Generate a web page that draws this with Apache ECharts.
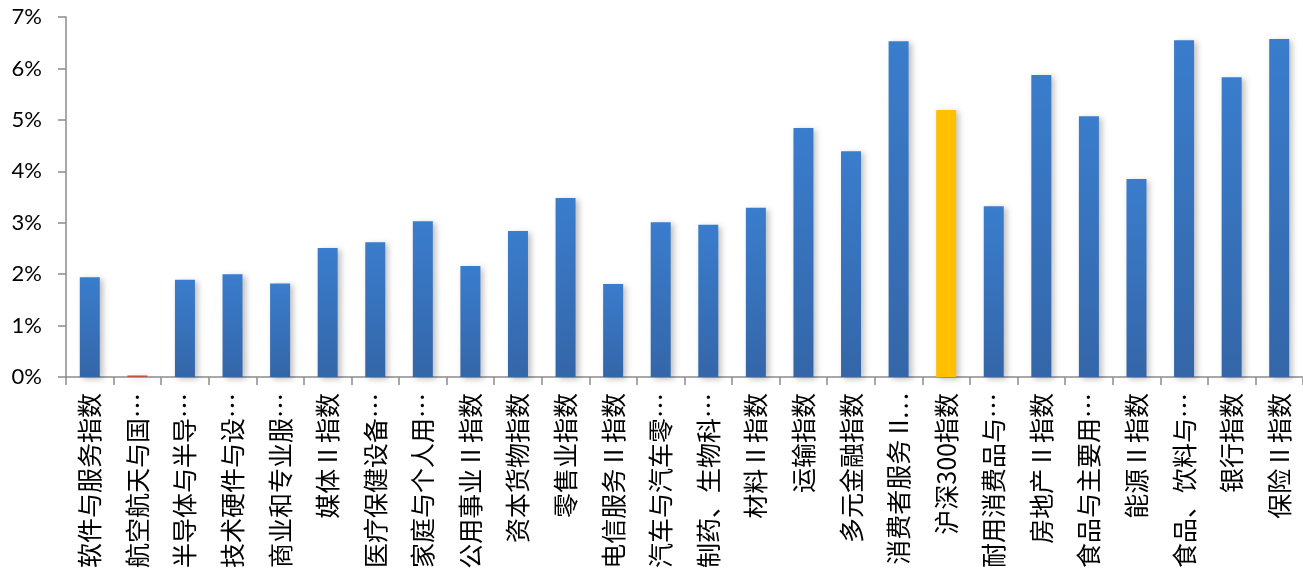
<!DOCTYPE html>
<html><head><meta charset="utf-8">
<script src="https://cdn.jsdelivr.net/npm/echarts@6/dist/echarts.min.js"></script>
<style>html,body{margin:0;padding:0;background:#fff}#c{width:1303px;height:580px}</style>
</head><body><div id="c"></div>
<script>
const categories = ["软件与服务指数","航空航天与国…","半导体与半导…","技术硬件与设…","商业和专业服…","媒体 II 指数","医疗保健设备…","家庭与个人用…","公用事业 II 指数","资本货物指数","零售业指数","电信服务 II 指数","汽车与汽车零…","制药、生物科…","材料 II 指数","运输指数","多元金融指数","消费者服务 II…","沪深300指数","耐用消费品与…","房地产 II 指数","食品与主要用…","能源 II 指数","食品、饮料与…","银行指数","保险 II 指数"];
const values = [1.94,0.03,1.89,2.00,1.82,2.51,2.62,3.03,2.16,2.84,3.48,1.81,3.01,2.96,3.29,4.84,4.39,6.53,5.19,3.32,5.87,5.07,3.85,6.55,5.83,6.57];
const highlight = "沪深300指数";
const yTicks = {min:0, max:7, interval:1};

const blueGrad = new echarts.graphic.LinearGradient(0,0,0,1,[{offset:0,color:'#3A7DCD'},{offset:1,color:'#3466A8'}]);
const data = values.map((v,i)=>{
  let color = blueGrad;
  if (categories[i]===highlight) color = '#FFC000';
  else if (v < 0.1) color = '#C0504D';
  return {value:v, itemStyle:{color}};
});
const chart = echarts.init(document.getElementById('c'));
chart.setOption({
  animation:false,
  grid:{left:66,right:0,top:17,bottom:203,containLabel:false},
  xAxis:{type:'category',data:categories,
    axisLine:{lineStyle:{color:'#8c8c8c',width:1.5}},
    axisTick:{show:true,length:8,lineStyle:{color:'#8c8c8c',width:1.5}},
    axisLabel:{rotate:90,interval:0,color:'#000',fontSize:25,margin:16,fontFamily:'Noto Sans CJK SC'}},
  yAxis:{type:'value',min:yTicks.min,max:yTicks.max,interval:yTicks.interval,
    splitLine:{show:false},
    axisLine:{show:true,lineStyle:{color:'#8c8c8c',width:1.5}},
    axisTick:{show:true,inside:false,length:8,lineStyle:{color:'#8c8c8c',width:1.5}},
    axisLabel:{formatter:'{value}%',color:'#000',fontSize:22,margin:24,fontFamily:'Lato'}},
  series:[{type:'bar',data:data,barWidth:20,
    itemStyle:{shadowColor:'rgba(0,0,0,0.25)',shadowBlur:6,shadowOffsetX:3,shadowOffsetY:2}}]
});
</script></body></html>
